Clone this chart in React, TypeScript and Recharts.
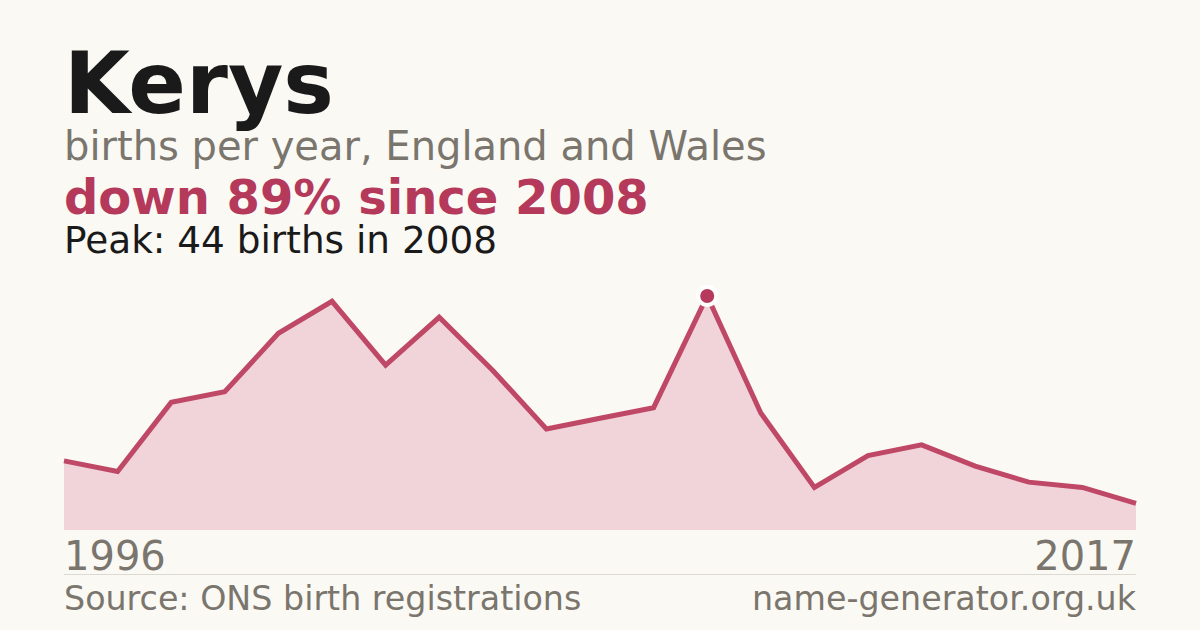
import React from 'react';
import { AreaChart, Area, XAxis, YAxis } from 'recharts';

// one year has no published count, so the series has 21 points
const years = [
  '1996', '1997', '1998', '1999', '2000', '2001', '2002', '2003', '2004', '2005', '2006',
  '2007', '2008', '2009', '2010', '2011', '2012', '2013', '2014', '2015', '2017',
];
const births = [13, 11, 24, 26, 37, 43, 31, 40, 30, 19, 21, 23, 44, 22, 8, 14, 16, 12, 9, 8, 5];
const tickLabels = ['1996', '2017'];

const data = years.map((year, i) => ({ year, births: births[i] }));
const peak = Math.max(...births);
const peakIndex = births.indexOf(peak);

const BG = '#faf9f4';
const RED = '#b5395a';
const GRAY = '#7a756d';
const FONT = '"DejaVu Sans", sans-serif';

const renderDot = (props: any) => {
  const { cx, cy, index } = props;
  if (index !== peakIndex) return <g key={`dot-${index}`} />;
  return <circle key={`dot-${index}`} cx={cx} cy={cy} r={9} fill={RED} stroke="#ffffff" strokeWidth={4} />;
};

const App = () => {
  return (
    <div style={{ position: 'absolute', left: 0, top: 0, width: 1200, height: 630, background: BG, overflow: 'hidden' }}>
      <div style={{ position: 'absolute', left: 44, top: 276 }}>
        <AreaChart width={1112} height={274} data={data} margin={{ top: 20, right: 20, left: 20, bottom: 20 }}>
          <XAxis dataKey="year" hide />
          <YAxis hide domain={[0, peak]} />
          <Area
            type="linear"
            dataKey="births"
            stroke="#bf4866"
            strokeWidth={5}
            fill="#f0d4da"
            fillOpacity={1}
            dot={renderDot}
            activeDot={false}
            isAnimationActive={false}
          />
        </AreaChart>
      </div>
      <svg width={1200} height={630} style={{ position: 'absolute', left: 0, top: 0, pointerEvents: 'none' }}>
        <text x={64} y={113} fontFamily={FONT} fontWeight="bold" fontSize={85} fill="#1a1a1a">Kerys</text>
        <text x={64} y={160} fontFamily={FONT} fontSize={40} fill={GRAY}>births per year, England and Wales</text>
        <text x={64} y={214} fontFamily={FONT} fontWeight="bold" fontSize={48} fill={RED}>down 89% since 2008</text>
        <text x={64} y={253} fontFamily={FONT} fontSize={37.4} fill="#1a1a1a">{`Peak: ${peak} births in ${years[peakIndex]}`}</text>
        <text x={64} y={570} fontFamily={FONT} fontSize={40} fill={GRAY}>{tickLabels[0]}</text>
        <text x={1136} y={570} textAnchor="end" fontFamily={FONT} fontSize={40} fill={GRAY}>{tickLabels[1]}</text>
        <line x1={64} x2={1136} y1={574.5} y2={574.5} stroke="#dcd9d2" strokeWidth={1} />
        <text x={64} y={610} fontFamily={FONT} fontSize={33.3} fill={GRAY}>Source: ONS birth registrations</text>
        <text x={1136} y={610} textAnchor="end" fontFamily={FONT} fontSize={33.3} fill={GRAY}>name-generator.org.uk</text>
      </svg>
    </div>
  );
};

export default App;
